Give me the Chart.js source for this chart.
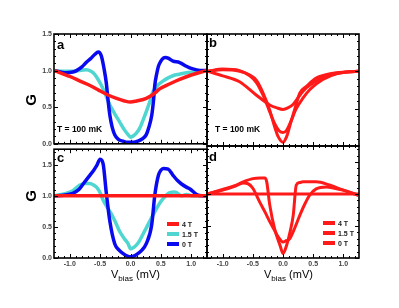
<!DOCTYPE html>
<html>
<head>
<meta charset="utf-8">
<script src="https://cdn.jsdelivr.net/npm/chart.js@4.4.1/dist/chart.umd.min.js"></script>
<style>
  html, body { margin:0; padding:0; background:#fff; }
  body { width:399px; height:308px; position:relative; overflow:hidden; font-family:'Liberation Sans', Arial, sans-serif; }
  canvas { position:absolute; }
  .lbl { position:absolute; color:#000; font-weight:bold; white-space:nowrap; line-height:1; }
  .g { font-size:15px; transform:translate(-50%,-50%) rotate(-90deg); }
  .panel { font-size:13px; }
  .temp { font-size:8.5px; }
  .leg { position:absolute; font-size:7px; font-weight:bold; color:#222; line-height:1; }
  .leg div { height:10px; display:flex; align-items:center; }
  .leg span { display:inline-block; width:12px; height:3.5px; margin-right:3px; }
  .vt { position:absolute; font-size:11px; color:#000; white-space:nowrap; }
  .vt sub { font-size:8px; }
</style>
</head>
<body>
<canvas id="chA" width="210" height="150" style="left:0;top:0"></canvas>
<canvas id="chB" width="160" height="150" style="left:204px;top:0"></canvas>
<canvas id="chC" width="210" height="140" style="left:0;top:143px"></canvas>
<canvas id="chD" width="160" height="140" style="left:204px;top:143px"></canvas>

<div class="lbl g" style="left:30px;top:100px">G</div>
<div class="lbl g" style="left:30px;top:196px">G</div>
<div class="lbl panel" style="left:57px;top:38px">a</div>
<div class="lbl panel" style="left:209px;top:36px">b</div>
<div class="lbl panel" style="left:57px;top:151px">c</div>
<div class="lbl panel" style="left:209px;top:150px">d</div>
<div class="lbl temp" style="left:57px;top:125px">T = 100 mK</div>
<div class="lbl temp" style="left:215px;top:125px">T = 100 mK</div>

<div class="leg" style="left:167px;top:219px">
  <div><span style="background:#ff1a1a"></span>4 T</div>
  <div><span style="background:#4fd6d0"></span>1.5 T</div>
  <div><span style="background:#0a0af0"></span>0 T</div>
</div>
<div class="leg" style="left:323px;top:218px">
  <div><span style="background:#ff1a1a"></span>4 T</div>
  <div><span style="background:#ff1a1a"></span>1.5 T</div>
  <div><span style="background:#ff1a1a"></span>0 T</div>
</div>

<div class="vt" style="left:111px;top:268px">V<sub>bias</sub> (mV)</div>
<div class="vt" style="left:264px;top:268px">V<sub>bias</sub> (mV)</div>

<script>
// ── tick values ──
const xTicks = [-1.0, -0.5, 0.0, 0.5, 1.0];
const yTicks = [0.0, 0.5, 1.0, 1.5];

// ── panel a : gap at different fields ──
const vA0 = [-1.25,-1.15,-1.06,-0.95,-0.89,-0.8,-0.73,-0.65,-0.59,-0.53,-0.48,-0.43,-0.40,-0.37,-0.34,-0.30,-0.26,-0.2,-0.12,-0.05,0,0.05,0.12,0.2,0.26,0.30,0.35,0.38,0.40,0.43,0.46,0.50,0.54,0.58,0.62,0.70,0.81,0.92,1.0,1.09,1.18,1.25];
const gA0 = [1.0,0.98,0.97,0.98,1.0,1.05,1.11,1.17,1.22,1.255,1.20,1.0,0.84,0.6,0.39,0.22,0.125,0.06,0.035,0.02,0.02,0.02,0.035,0.07,0.125,0.22,0.39,0.6,0.80,0.95,1.06,1.13,1.17,1.18,1.17,1.13,1.11,1.06,1.03,1.01,1.0,1.0];
const vA1 = [-1.25,-1.1,-0.95,-0.85,-0.73,-0.65,-0.59,-0.52,-0.45,-0.40,-0.34,-0.26,-0.18,-0.10,-0.04,0,0.05,0.10,0.15,0.20,0.26,0.32,0.37,0.45,0.54,0.62,0.70,0.80,0.92,1.05,1.14,1.25];
const gA1 = [1.0,0.99,0.99,1.0,1.01,0.99,0.95,0.86,0.75,0.65,0.53,0.41,0.30,0.19,0.125,0.09,0.11,0.15,0.21,0.31,0.44,0.58,0.71,0.80,0.86,0.90,0.93,0.95,0.97,0.98,0.99,1.0];
const vA4 = [-1.25,-1.0,-0.84,-0.65,-0.52,-0.38,-0.23,-0.1,0,0.1,0.26,0.38,0.48,0.65,0.81,1.0,1.25];
const gA4 = [1.0,0.92,0.86,0.79,0.73,0.67,0.62,0.585,0.57,0.585,0.62,0.68,0.75,0.82,0.88,0.94,1.0];

// ── panel b : red sweeps ──
const vB4 = [-1.25,-1.0,-0.72,-0.44,-0.22,-0.1,0,0.08,0.17,0.28,0.39,0.61,0.83,1.05,1.25];
const gB4 = [1.0,0.94,0.86,0.68,0.55,0.51,0.49,0.51,0.56,0.68,0.78,0.90,0.96,0.99,1.0];
const vB1 = [-1.25,-1.0,-0.72,-0.55,-0.44,-0.33,-0.24,-0.15,-0.06,0,0.06,0.13,0.22,0.33,0.45,0.66,0.9,1.25];
const gB1 = [1.0,1.03,1.01,0.94,0.85,0.68,0.50,0.32,0.20,0.18,0.21,0.33,0.50,0.64,0.76,0.89,0.97,1.0];
const vB0 = [-1.25,-1.0,-0.72,-0.55,-0.44,-0.33,-0.22,-0.14,-0.08,0,0.06,0.11,0.19,0.28,0.39,0.55,0.8,1.05,1.25];
const gB0 = [1.0,1.02,1.0,0.95,0.88,0.71,0.48,0.26,0.125,0.05,0.125,0.26,0.48,0.71,0.80,0.91,0.97,0.99,1.0];

// ── panel c ──
const vC0 = [-1.25,-1.1,-0.95,-0.85,-0.78,-0.67,-0.60,-0.56,-0.50,-0.45,-0.40,-0.34,-0.26,-0.18,-0.12,-0.05,0,0.05,0.12,0.18,0.26,0.35,0.40,0.46,0.50,0.54,0.62,0.70,0.77,0.84,0.92,0.98,1.09,1.18,1.25];
const gC0 = [1.0,1.01,1.04,1.1,1.19,1.33,1.42,1.48,1.59,1.51,1.06,0.59,0.23,0.12,0.07,0.03,0.02,0.03,0.07,0.12,0.23,0.54,1.01,1.33,1.41,1.44,1.43,1.33,1.25,1.19,1.14,1.11,1.02,1.0,1.0];
const vC1 = [-1.25,-1.06,-0.95,-0.84,-0.75,-0.67,-0.60,-0.56,-0.50,-0.45,-0.38,-0.31,-0.24,-0.18,-0.10,-0.04,0,0.05,0.10,0.15,0.22,0.29,0.36,0.43,0.50,0.54,0.60,0.65,0.72,0.76,0.84,0.92,1.03,1.15,1.25];
const gC1 = [1.0,1.04,1.08,1.17,1.20,1.20,1.17,1.14,1.05,0.93,0.81,0.70,0.56,0.43,0.31,0.23,0.15,0.17,0.21,0.28,0.41,0.54,0.67,0.80,0.91,0.96,1.02,1.05,1.06,1.05,1.0,1.02,1.0,1.0,1.0];
const vC4 = [-1.3, 1.3];
const gC4 = [1.0, 1.0];

// ── panel d ──
const vD0 = [-1.25,-1.0,-0.8,-0.66,-0.5,-0.38,-0.30,-0.27,-0.22,-0.14,-0.05,0,0.06,0.12,0.17,0.22,0.28,0.33,0.45,0.55,0.77,1.0,1.25];
const gD0 = [1.0,1.07,1.13,1.19,1.24,1.25,1.25,1.19,0.83,0.46,0.20,0.07,0.20,0.42,0.67,1.14,1.18,1.19,1.19,1.19,1.14,1.06,0.98];
const vD1 = [-1.25,-1.0,-0.8,-0.66,-0.58,-0.5,-0.39,-0.30,-0.22,-0.15,-0.08,0,0.05,0.11,0.2,0.28,0.36,0.44,0.55,0.72,0.85,1.0,1.25];
const gD1 = [1.0,1.06,1.12,1.17,1.16,1.09,0.88,0.72,0.57,0.45,0.33,0.25,0.27,0.30,0.48,0.67,0.84,0.98,1.08,1.11,1.09,1.06,0.98];
const vD4 = [-1.3, 1.3];
const gD4 = [1.0, 1.0];

const RED = '#ff1a1a', CYAN = '#4fd6d0', BLUE = '#0a0af0';

Chart.defaults.font.family = "'Liberation Sans', Arial, sans-serif";
Chart.defaults.animation = false;

const pts = (xs, ys) => xs.map((x, i) => ({ x, y: ys[i] }));
const line = (xs, ys, color, w) => ({
  data: pts(xs, ys), borderColor: color, borderWidth: w,
  pointRadius: 0, fill: false, cubicInterpolationMode: 'monotone',
});

// box round the plot plus inward ticks on all four sides
const frame = {
  id: 'frame',
  afterDraw(chart) {
    const { ctx, chartArea: a, scales } = chart;
    const xs = scales.x, ys = scales.y;
    ctx.save();
    ctx.strokeStyle = '#000';
    ctx.lineWidth = 1;
    ctx.beginPath();
    for (let i = Math.ceil(xs.min * 10 - 1e-6); i <= Math.floor(xs.max * 10 + 1e-6); i++) {
      const px = Math.round(xs.getPixelForValue(i / 10)) + 0.5;
      const len = i % 5 === 0 ? 4 : 2;
      ctx.moveTo(px, a.bottom); ctx.lineTo(px, a.bottom - len);
      ctx.moveTo(px, a.top); ctx.lineTo(px, a.top + len);
    }
    for (let i = Math.ceil(ys.min * 10 - 1e-6); i <= Math.floor(ys.max * 10 + 1e-6); i++) {
      const py = Math.round(ys.getPixelForValue(i / 10)) + 0.5;
      const len = i % 5 === 0 ? 4 : 2;
      ctx.moveTo(a.left, py); ctx.lineTo(a.left + len, py);
      ctx.moveTo(a.right, py); ctx.lineTo(a.right - len, py);
    }
    ctx.stroke();
    ctx.lineWidth = 1.6;
    ctx.strokeRect(a.left, a.top, a.width, a.height);
    ctx.restore();
  },
};

const tickFont = { size: 7, weight: 'bold' };
const fmt = v => Number(v).toFixed(1);

function mount(id, datasets, o) {
  new Chart(document.getElementById(id), {
    type: 'line',
    data: { datasets },
    plugins: [frame],
    options: {
      responsive: false,
      layout: { padding: o.pad },
      plugins: { legend: { display: false }, tooltip: { enabled: false } },
      scales: {
        x: {
          type: 'linear', min: -1.26, max: 1.26,
          display: o.showX,
          grid: { display: false, drawTicks: false },
          border: { display: false },
          afterBuildTicks: s => { s.ticks = xTicks.map(v => ({ value: v })); },
          ticks: { font: tickFont, color: '#444', padding: 2, callback: fmt, maxRotation: 0, autoSkip: false },
          afterFit: s => { s.height = o.showX ? 20 : 0; },
        },
        y: {
          type: 'linear', min: 0, max: o.ymax,
          display: o.showY,
          grid: { display: false, drawTicks: false },
          border: { display: false },
          afterBuildTicks: s => { s.ticks = yTicks.map(v => ({ value: v })); },
          ticks: { font: tickFont, color: '#444', padding: 2, callback: fmt, autoSkip: false },
          afterFit: s => { s.width = o.showY ? 54 : 0; },
        },
      },
    },
  });
}

mount('chA', [line(vA4, gA4, RED, 3.5), line(vA0, gA0, BLUE, 3.5), line(vA1, gA1, CYAN, 3.5)],
  { pad: { top: 34, right: 3, bottom: 4, left: 0 }, showX: false, showY: true, ymax: 1.5 });
mount('chB', [line(vB4, gB4, RED, 3), line(vB1, gB1, RED, 3), line(vB0, gB0, RED, 3)],
  { pad: { top: 34, right: 5, bottom: 4, left: 3 }, showX: false, showY: false, ymax: 1.5 });
mount('chC', [line(vC4, gC4, RED, 3.5), line(vC0, gC0, BLUE, 3.5), line(vC1, gC1, CYAN, 3.5)],
  { pad: { top: 3, right: 3, bottom: 5, left: 0 }, showX: true, showY: true, ymax: 1.75 });
mount('chD', [line(vD4, gD4, RED, 3), line(vD1, gD1, RED, 3), line(vD0, gD0, RED, 3)],
  { pad: { top: 3, right: 5, bottom: 5, left: 3 }, showX: true, showY: false, ymax: 1.75 });
</script>
</body>
</html>
